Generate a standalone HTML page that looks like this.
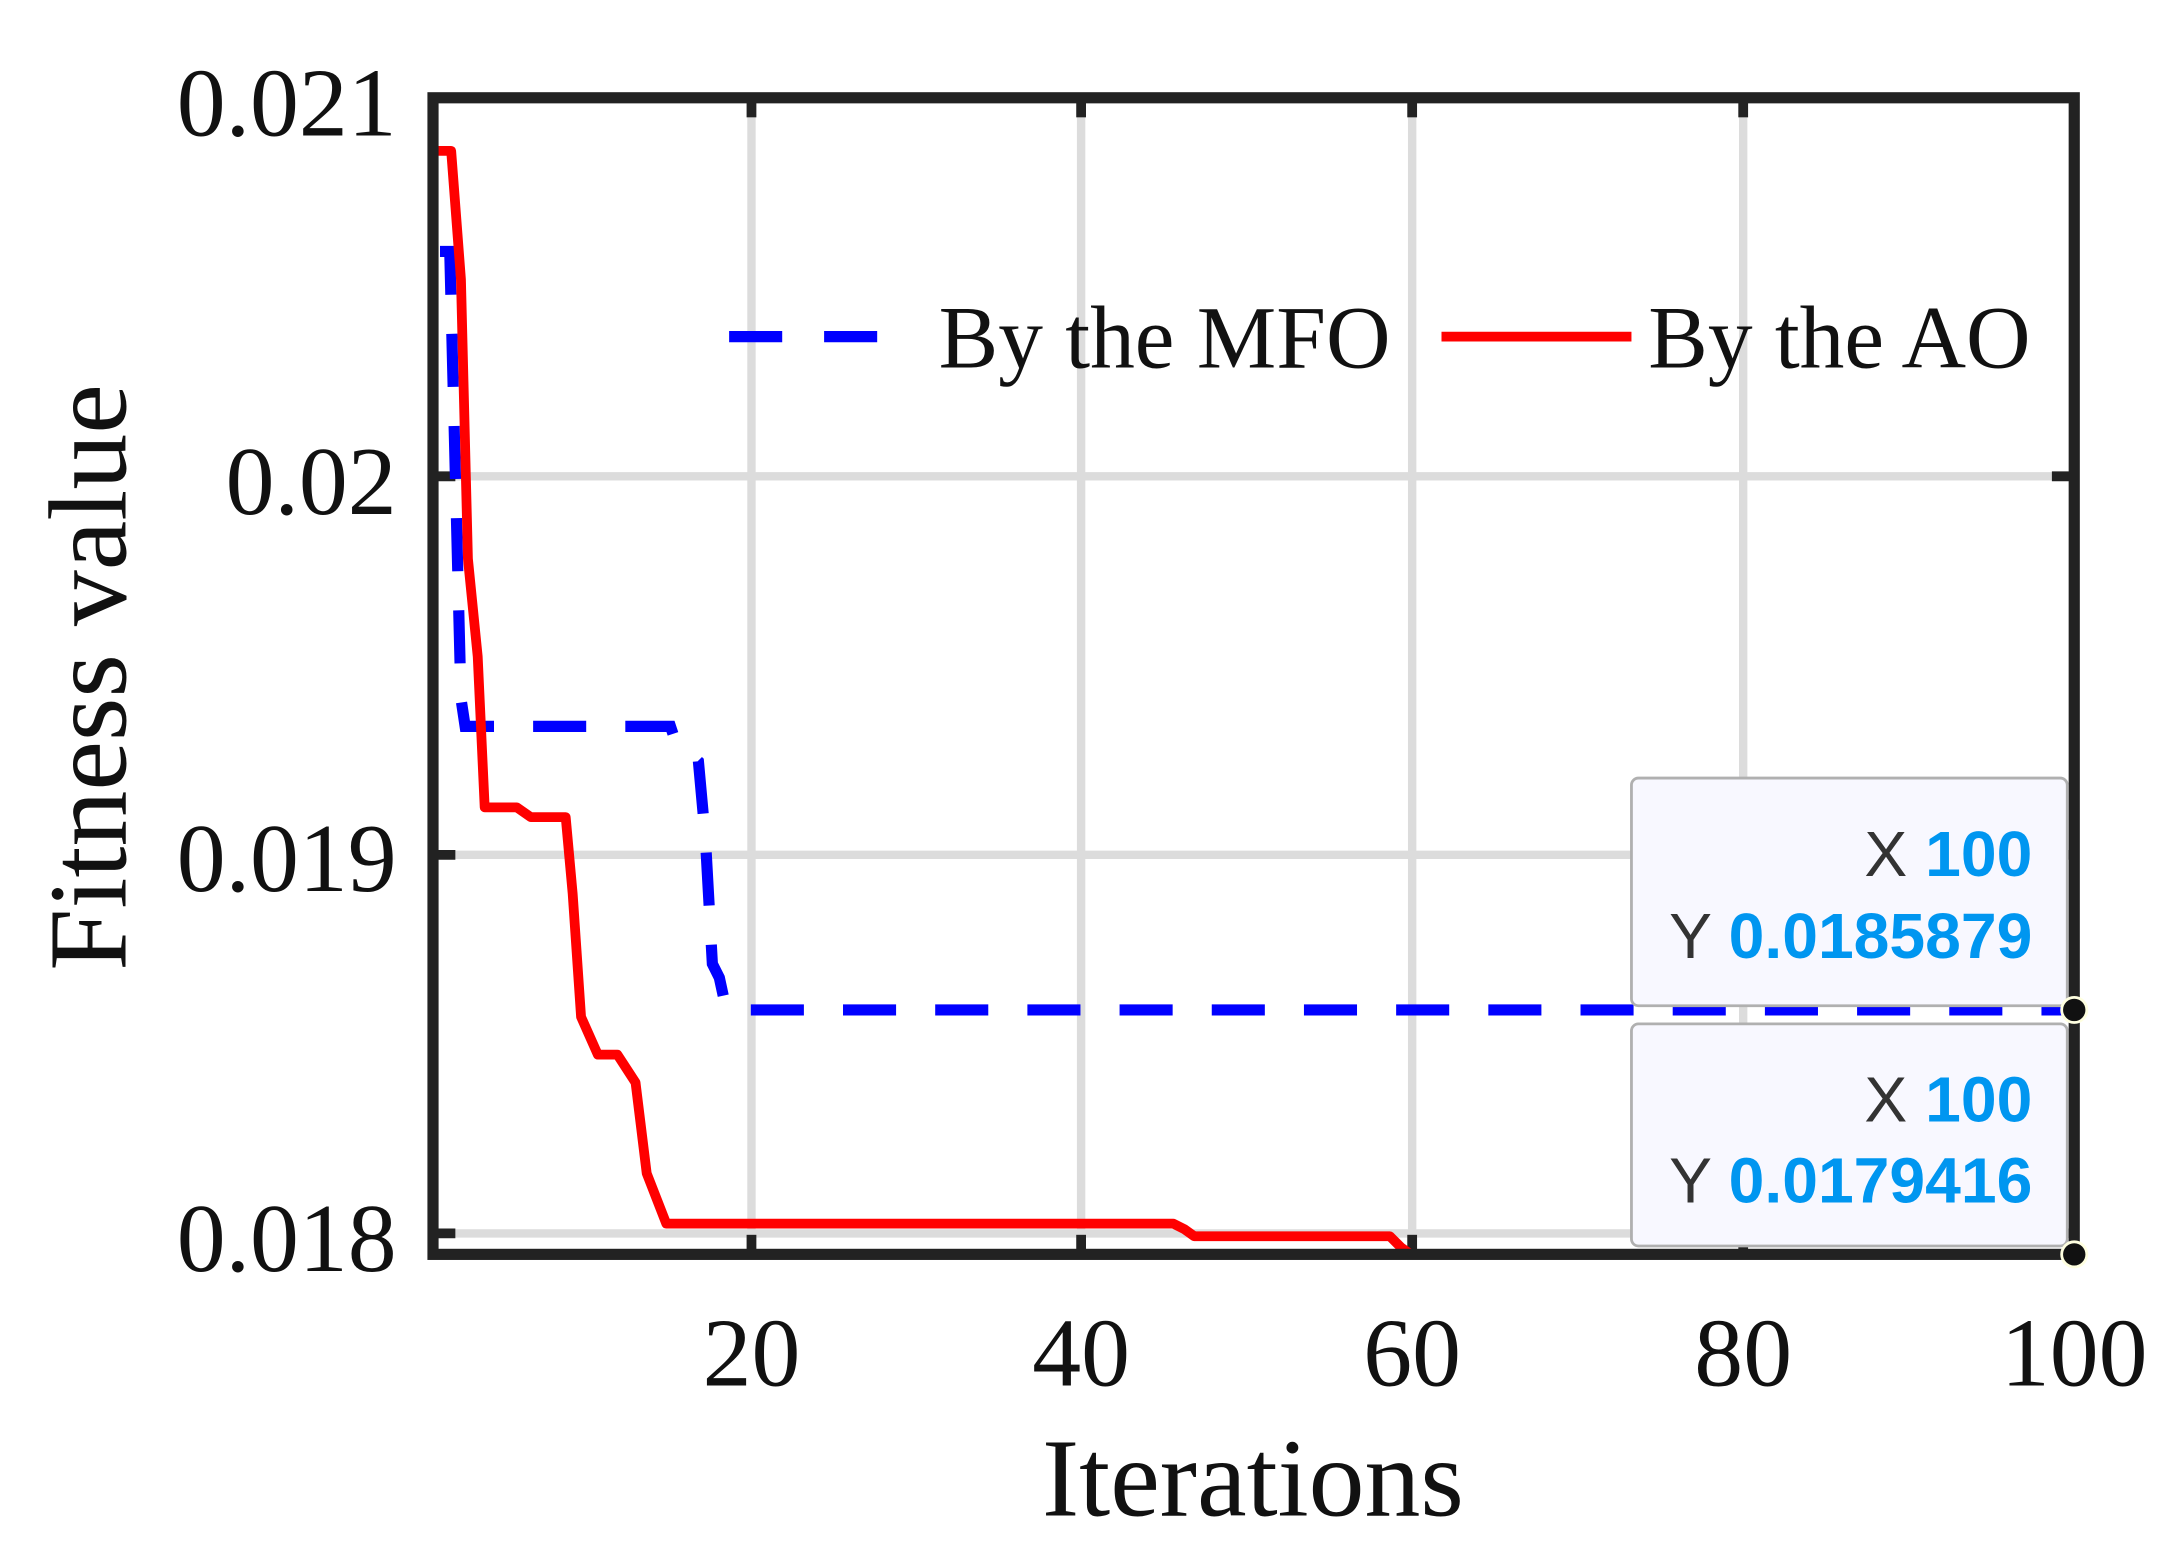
<!DOCTYPE html>
<html><head><meta charset="utf-8"><style>
html,body{margin:0;padding:0;background:#fff;}
svg{display:block;}
</style></head><body>
<svg width="2179" height="1560" viewBox="0 0 1560 1116.8" preserveAspectRatio="none" xmlns="http://www.w3.org/2000/svg">
<rect x="0" y="0" width="1560" height="1117" fill="#fff"/>
<g stroke="#dcdcdc" stroke-width="6">
<line x1="538" y1="70" x2="538" y2="898"/>
<line x1="774" y1="70" x2="774" y2="898"/>
<line x1="1011" y1="70" x2="1011" y2="898"/>
<line x1="1248" y1="70" x2="1248" y2="898"/>
<line x1="310" y1="341" x2="1485" y2="341"/>
<line x1="310" y1="612" x2="1485" y2="612"/>
<line x1="310" y1="883" x2="1485" y2="883"/>
</g>
<g stroke="#222" stroke-width="7">
<line x1="538" y1="70" x2="538" y2="84"/><line x1="774" y1="70" x2="774" y2="84"/><line x1="1011" y1="70" x2="1011" y2="84"/><line x1="1248" y1="70" x2="1248" y2="84"/>
<line x1="538" y1="898" x2="538" y2="884"/><line x1="774" y1="898" x2="774" y2="884"/><line x1="1011" y1="898" x2="1011" y2="884"/><line x1="1248" y1="898" x2="1248" y2="884"/>
<line x1="310" y1="341" x2="326" y2="341"/><line x1="310" y1="612" x2="326" y2="612"/><line x1="310" y1="883" x2="326" y2="883"/>
<line x1="1485" y1="341" x2="1469" y2="341"/><line x1="1485" y1="612" x2="1469" y2="612"/><line x1="1485" y1="883" x2="1469" y2="883"/>
</g>
<polyline fill="none" stroke="#0000ff" stroke-width="8" stroke-dasharray="38,28" points="315,180 322,180 325,300 330,500 333,520 480,520 485,535 495,540 500,545 505,600 510,690 515,700 520,723 1485,723"/>
<polyline fill="none" stroke="#ff0000" stroke-width="7" stroke-linejoin="round" points="313,108 323,108 330,200 335,400 342,470 347,578 370,578 380,585 405,585 410,640 416,728 428,755 442,755 455,775 463,840 477,876 840,876 848,880 855,885 995,885 1003,893 1010,898 1485,898"/>
<rect x="310" y="70" width="1175" height="828" fill="none" stroke="#222" stroke-width="8"/>
<line x1="522" y1="241" x2="630" y2="241" stroke="#0000ff" stroke-width="8" stroke-dasharray="38,30"/>
<line x1="1032" y1="241" x2="1168" y2="241" stroke="#ff0000" stroke-width="7"/>
<g font-family="Liberation Serif, serif" fill="#111">
<text x="672" y="263" font-size="64">By the MFO</text>
<text x="1180" y="263" font-size="64">By the AO</text>
<g font-size="70" text-anchor="end">
<text x="284" y="97">0.021</text>
<text x="284" y="368">0.02</text>
<text x="284" y="638">0.019</text>
<text x="284" y="910">0.018</text>
</g>
<g font-size="70" text-anchor="middle">
<text x="538" y="992">20</text>
<text x="774" y="992">40</text>
<text x="1011" y="992">60</text>
<text x="1248" y="992">80</text>
<text x="1485" y="992">100</text>
</g>
<text x="897" y="1085" font-size="80" text-anchor="middle">Iterations</text>
<text transform="translate(90,485) rotate(-90)" font-size="80" text-anchor="middle">Fitness value</text>
</g>
<rect x="1168" y="557" width="312" height="163" rx="5" fill="#f8f8ff" stroke="#b0b0b0" stroke-width="2"/>
<rect x="1168" y="733" width="312" height="159" rx="5" fill="#f8f8ff" stroke="#b0b0b0" stroke-width="2"/>
<g font-family="Liberation Sans, sans-serif" font-size="46" text-anchor="end">
<text x="1455" y="627"><tspan fill="#333">X </tspan><tspan fill="#0096f0" font-weight="bold">100</tspan></text>
<text x="1455" y="686"><tspan fill="#333">Y </tspan><tspan fill="#0096f0" font-weight="bold">0.0185879</tspan></text>
<text x="1455" y="803"><tspan fill="#333">X </tspan><tspan fill="#0096f0" font-weight="bold">100</tspan></text>
<text x="1455" y="861"><tspan fill="#333">Y </tspan><tspan fill="#0096f0" font-weight="bold">0.0179416</tspan></text>
</g>
<circle cx="1485" cy="723" r="9" fill="#111" stroke="#ffffe0" stroke-width="2"/>
<circle cx="1485" cy="898" r="9" fill="#111" stroke="#ffffe0" stroke-width="2"/>
</svg>
</body></html>
